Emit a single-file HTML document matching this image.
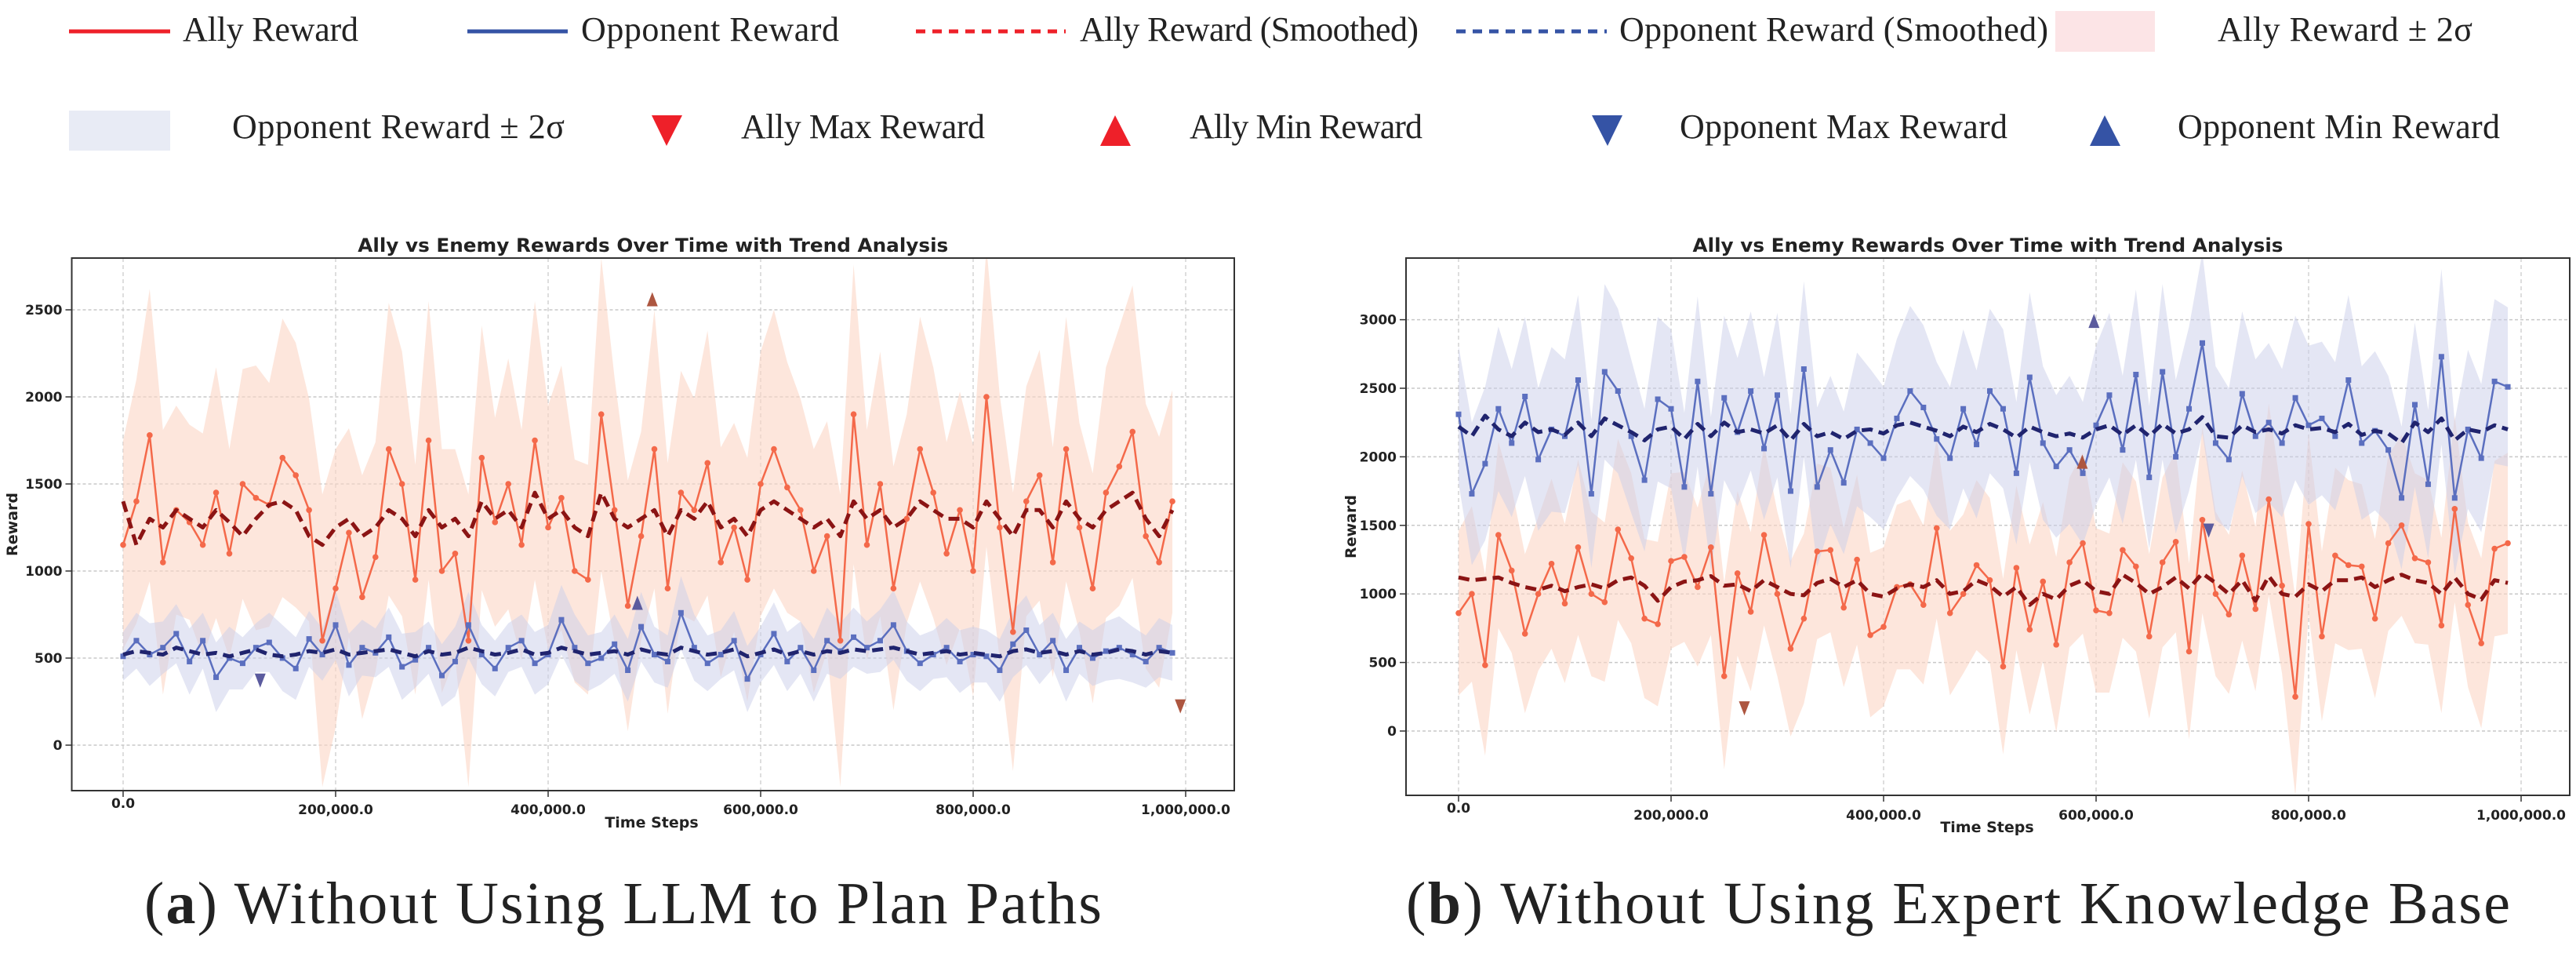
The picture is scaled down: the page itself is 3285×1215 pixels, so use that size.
<!DOCTYPE html>
<html><head><meta charset="utf-8"><style>
html,body{margin:0;padding:0;background:#fff;}
svg{display:block;}
</style></head><body>
<svg id="fig" width="3285" height="1215" viewBox="0 0 3285 1215" xmlns="http://www.w3.org/2000/svg">
<g id="legend" font-family="Liberation Serif, serif" font-size="44" fill="#222">
  <g><line x1="88" y1="40" x2="217" y2="40" stroke="#ee2029" stroke-width="5"/><text x="233" y="52" textLength="224">Ally Reward</text></g>
  <g><line x1="596" y1="40" x2="724" y2="40" stroke="#3553a5" stroke-width="5"/><text x="741" y="52" textLength="329">Opponent Reward</text></g>
  <g><line x1="1168" y1="40" x2="1359" y2="40" stroke="#ee2029" stroke-width="5" stroke-dasharray="12 9"/><text x="1377" y="52" textLength="432">Ally Reward (Smoothed)</text></g>
  <g><line x1="1857" y1="40" x2="2049" y2="40" stroke="#3553a5" stroke-width="5" stroke-dasharray="12 9"/><text x="2065" y="52" textLength="547">Opponent Reward (Smoothed)</text></g>
  <g><rect x="2621" y="14" width="127" height="52" fill="#fce4e6"/><text x="2828" y="52" textLength="325">Ally Reward ± 2σ</text></g>
  <g><rect x="88" y="141" width="129" height="51" fill="#e8ebf5"/><text x="296" y="176" textLength="424">Opponent Reward ± 2σ</text></g>
  <g><polygon points="831,147 870,147 850,186" fill="#ee2029"/><text x="945" y="176" textLength="311">Ally Max Reward</text></g>
  <g><polygon points="1403,186 1442,186 1422,147" fill="#ee2029"/><text x="1517" y="176" textLength="297">Ally Min Reward</text></g>
  <g><polygon points="2030,147 2069,147 2050,186" fill="#3553a5"/><text x="2142" y="176" textLength="418">Opponent Max Reward</text></g>
  <g><polygon points="2665,186 2704,186 2684,147" fill="#3553a5"/><text x="2777" y="176" textLength="411">Opponent Min Reward</text></g>
</g>
<g id="chartA"></g>
<g id="chartB"></g>
<text x="184" y="1177" font-family="Liberation Serif, serif" font-size="76" fill="#222" textLength="1221">(<tspan font-weight="bold">a</tspan>) Without Using LLM to Plan Paths</text>
<text x="1793" y="1177" font-family="Liberation Serif, serif" font-size="76" fill="#222" textLength="1408">(<tspan font-weight="bold">b</tspan>) Without Using Expert Knowledge Base</text>
</svg>
<script>
// ---------- data: chart A ----------
const stepSize = 12500;
const xTicksA = [0, 200000, 400000, 600000, 800000, 1000000];
const xTickLabels = ["0.0", "200,000.0", "400,000.0", "600,000.0", "800,000.0", "1,000,000.0"];
const yTicksA = [0, 500, 1000, 1500, 2000, 2500];
const allyA = [1150,1400,1780,1050,1350,1280,1150,1450,1100,1500,1420,1380,1650,1550,1350,600,900,1220,850,1080,1700,1500,950,1750,1000,1100,600,1650,1280,1500,1150,1750,1250,1420,1000,950,1900,1350,800,1200,1700,900,1450,1350,1620,1050,1250,950,1500,1700,1480,1350,1000,1200,600,1900,1150,1500,900,1300,1700,1450,1100,1350,1000,2000,1250,650,1400,1550,1050,1700,1250,900,1450,1600,1800,1200,1050,1400];
const allySmoothA = [1400,1150,1300,1250,1350,1300,1250,1350,1280,1200,1300,1380,1400,1350,1200,1150,1250,1300,1200,1250,1350,1300,1200,1350,1250,1300,1200,1400,1300,1350,1250,1450,1300,1350,1250,1200,1450,1300,1250,1300,1350,1200,1350,1300,1400,1250,1300,1200,1350,1400,1350,1300,1250,1300,1200,1400,1300,1350,1250,1300,1400,1350,1300,1300,1250,1400,1300,1200,1350,1350,1250,1400,1300,1250,1350,1400,1450,1300,1200,1350];
const allyStdA = [300,350,420,380,300,280,320,360,300,330,380,350,400,380,320,420,400,300,350,330,420,380,330,400,350,300,420,380,300,360,330,400,350,380,320,330,450,380,360,300,400,360,350,320,380,330,300,350,380,400,360,320,350,330,420,430,330,380,350,300,380,360,320,340,360,430,380,400,330,360,330,380,300,330,360,400,420,380,360,320];
const oppA = [510,600,520,560,640,480,600,390,500,470,560,590,500,440,610,520,690,460,560,530,620,450,490,560,400,480,690,520,440,560,600,470,520,720,560,470,500,580,430,680,520,480,760,560,470,520,600,380,520,640,480,560,430,600,540,620,560,600,690,540,470,520,560,480,520,510,430,580,660,520,600,430,560,500,540,560,520,480,560,530];
const oppSmoothA = [520,540,530,520,560,540,520,530,510,530,550,520,510,520,540,530,550,520,530,540,550,530,510,540,520,530,560,540,520,530,550,520,530,560,540,520,530,540,520,550,530,520,560,540,520,530,550,510,530,550,520,540,520,540,530,550,540,550,560,540,520,530,540,520,530,520,510,540,550,530,540,520,540,520,530,550,540,520,540,530];
const oppStdA = [70,80,90,75,85,95,80,100,90,75,70,85,95,90,80,75,100,90,80,70,85,95,80,75,90,100,95,85,80,70,75,90,85,100,95,80,75,85,90,100,80,75,105,95,80,70,85,95,80,90,85,75,90,95,80,85,75,90,100,85,80,70,85,90,80,75,90,95,100,85,80,90,75,80,85,90,80,75,85,80];
const markersA = {allyMin:[498000,2520], allyMax:[995000,182], oppMax:[129000,330], oppMin:[484000,777]};
// ---------- data: chart B ----------
const yTicksB = [0, 500, 1000, 1500, 2000, 2500, 3000];
const oppB = [2310,1730,1950,2350,2100,2440,1980,2200,2150,2560,1730,2620,2480,2150,1830,2420,2350,1780,2550,1730,2430,2180,2480,2060,2450,1750,2640,1780,2050,1810,2200,2100,1990,2280,2480,2360,2130,1990,2350,2090,2480,2350,1880,2580,2100,1930,2050,1880,2230,2450,2050,2600,1850,2620,2000,2350,2830,2100,1980,2460,2150,2250,2100,2430,2230,2280,2150,2560,2100,2190,2050,1700,2380,1800,2730,1700,2200,1990,2550,2510];
const oppSmoothB = [2220,2150,2300,2200,2150,2250,2180,2200,2160,2250,2150,2280,2230,2180,2120,2200,2220,2130,2240,2150,2250,2180,2200,2170,2230,2120,2240,2150,2180,2130,2190,2200,2170,2230,2250,2220,2190,2150,2220,2180,2240,2200,2140,2220,2180,2150,2170,2140,2200,2230,2160,2230,2150,2240,2170,2200,2290,2150,2140,2230,2180,2200,2170,2230,2200,2210,2180,2240,2160,2190,2170,2100,2250,2180,2280,2120,2200,2180,2230,2200];
const oppStdB = [250,260,280,300,270,290,260,300,280,310,270,320,300,280,260,300,290,270,310,280,300,270,290,260,300,280,320,290,270,260,280,270,260,290,310,300,280,260,290,270,300,290,260,310,280,260,270,260,290,300,270,310,260,320,280,300,330,280,260,300,280,290,270,300,290,280,270,310,280,290,270,260,300,270,320,280,290,270,300,290];
const allyB = [860,1000,480,1430,1170,710,1000,1220,930,1340,1000,940,1470,1260,820,780,1240,1270,1050,1340,400,1150,870,1430,1000,600,820,1310,1320,900,1250,700,760,1050,1070,920,1480,860,1000,1210,1100,470,1190,740,1090,630,1230,1370,880,860,1320,1200,690,1230,1380,580,1540,1000,850,1280,890,1690,1060,250,1510,690,1280,1210,1200,820,1370,1500,1260,1230,770,1620,920,640,1330,1370];
const allySmoothB = [1120,1100,1110,1120,1080,1050,1030,1060,1020,1050,1070,1040,1100,1120,1060,950,1050,1090,1100,1130,1060,1070,1020,1100,1050,1000,990,1080,1110,1050,1100,1000,980,1040,1070,1050,1100,1000,1020,1100,1060,980,1050,920,1000,960,1060,1100,1020,1000,1140,1080,1000,1050,1120,1040,1150,1080,1000,1100,950,1130,1000,980,1070,1020,1100,1100,1120,1050,1100,1140,1100,1080,1000,1120,1000,960,1100,1080];
const allyStdB = [300,320,330,340,300,290,280,310,290,320,300,290,330,310,290,300,320,310,290,320,340,300,290,330,300,320,310,320,300,290,310,300,290,300,310,290,330,300,290,310,300,320,300,310,290,320,310,330,300,290,320,310,300,310,330,320,340,300,290,310,300,350,320,360,330,310,320,310,300,290,320,330,310,300,320,340,300,310,320,330];
const markersB = {allyMin:[587000,1913], allyMax:[269000,114], oppMax:[706000,1410], oppMin:[598000,2940]};

const NS = "http://www.w3.org/2000/svg";
function mk(parent, tag, attrs) {
  const e = document.createElementNS(NS, tag);
  for (const k in attrs) e.setAttribute(k, attrs[k]);
  parent.appendChild(e);
  return e;
}
function drawChart(root, cfg) {
  const L = cfg.left, R = cfg.right, T = cfg.top, B = cfg.bottom;
  const sx = v => cfg.x0 + (v / 200000) * cfg.xUnit;
  const sy = v => cfg.y0 - (v / 500) * cfg.yUnit;
  const clip = mk(root, "clipPath", {id: cfg.id + "-clip"});
  mk(clip, "rect", {x: L, y: T, width: R - L, height: B - T});
  xTicksA.forEach((t, i) => {
    const g = mk(root, "line", {x1: sx(t), x2: sx(t), y1: T, y2: B, stroke: "#d4d4d4", "stroke-width": 1.5, "stroke-dasharray": "5 4"});
    
    
    const tk = mk(root, "line", {x1: sx(t), x2: sx(t), y1: B, y2: B + 8, stroke: "#333", "stroke-width": 1.5});
    
    
    const lb = mk(root, "text", {x: sx(t), y: i === 0 ? B + cfg.tickDy0 : B + cfg.tickDy, "text-anchor": "middle", "font-family": "DejaVu Sans, sans-serif", "font-weight": "bold", "font-size": 17, fill: "#222"});
    lb.textContent = xTickLabels[i];
    
    
  });
  cfg.yTicks.forEach(t => {
    const g = mk(root, "line", {x1: L, x2: R, y1: sy(t), y2: sy(t), stroke: "#c8c8c8", "stroke-width": 1.5, "stroke-dasharray": "4 3"});
    
    
    const tk = mk(root, "line", {x1: L - 8, x2: L, y1: sy(t), y2: sy(t), stroke: "#333", "stroke-width": 1.5});
    
    
    const lb = mk(root, "text", {x: L - 12, y: sy(t) + 6, "text-anchor": "end", "font-family": "DejaVu Sans, sans-serif", "font-weight": "bold", "font-size": 17, fill: "#222"});
    lb.textContent = String(t);
    
    
  });
  const plot = mk(root, "g", {"clip-path": "url(#" + cfg.id + "-clip)"});
  
  
  function band(vals, std, color, op, name) {
    const up = vals.map((v, i) => sx(i * stepSize) + "," + sy(v + 2 * std[i]));
    const dn = vals.map((v, i) => sx(i * stepSize) + "," + sy(v - 2 * std[i])).reverse();
    const p = mk(plot, "polygon", {points: up.concat(dn).join(" "), fill: color, "fill-opacity": op});
    
    
  }
  function line(vals, color, w, dash, name) {
    const pts = vals.map((v, i) => sx(i * stepSize) + "," + sy(v)).join(" ");
    const a = {points: pts, fill: "none", stroke: color, "stroke-width": w, "stroke-linejoin": "round"};
    if (dash) a["stroke-dasharray"] = dash;
    const p = mk(plot, "polyline", a);
    
    
  }
  function points(vals, color, shape, name) {
    vals.forEach((v, i) => {
      const x = sx(i * stepSize), y = sy(v);
      let m;
      if (shape === "sq") m = mk(plot, "rect", {x: x - 3.5, y: y - 3.5, width: 7, height: 7, fill: color});
      else m = mk(plot, "circle", {cx: x, cy: y, r: 3.8, fill: color});
      
      
    });
  }
  band(cfg.ally, cfg.allyStd, "#fbd5c5", 0.6, "ally-band");
  band(cfg.opp, cfg.oppStd, "#c9cde9", 0.5, "opponent-band");
  line(cfg.ally, "#f4694a", 2.5, null, "ally-reward-line");
  points(cfg.ally, "#f4694a", "c", "ally-reward-point");
  line(cfg.opp, "#5b6fbf", 2.5, null, "opponent-reward-line");
  points(cfg.opp, "#5b6fbf", "sq", "opponent-reward-point");
  line(cfg.allySmooth, "#8b1414", 5, "14 8", "ally-smoothed-line");
  line(cfg.oppSmooth, "#20246e", 5, "14 8", "opponent-smoothed-line");
  function tri(pt, down, color, name) {
    const x = sx(pt[0]), y = sy(pt[1]);
    const ps = down ? [x - 7, y - 18, x + 7, y - 18, x, y] : [x - 7, y, x + 7, y, x, y - 18];
    const p = mk(plot, "polygon", {points: ps.join(" "), fill: color});
    
    
  }
  tri(cfg.markers.allyMin, false, "#ad5640", "ally-min-marker");
  tri(cfg.markers.allyMax, true, "#ad5640", "ally-max-marker");
  tri(cfg.markers.oppMin, false, "#5b5b9e", "opponent-min-marker");
  tri(cfg.markers.oppMax, true, "#5b5b9e", "opponent-max-marker");
  const fr = mk(root, "rect", {x: L, y: T, width: R - L, height: B - T, fill: "none", stroke: "#333", "stroke-width": 2});
  
  
  const ti = mk(root, "text", {x: (L + R) / 2, y: T - 8, "text-anchor": "middle", "font-family": "DejaVu Sans, sans-serif", "font-weight": "bold", "font-size": 24, fill: "#222", textLength: 753, lengthAdjust: "spacingAndGlyphs"});
  ti.textContent = "Ally vs Enemy Rewards Over Time with Trend Analysis";
  
  
  const xl = mk(root, "text", {x: cfg.xLabelX, y: B + 47, "text-anchor": "middle", "font-family": "DejaVu Sans, sans-serif", "font-weight": "bold", "font-size": 19, fill: "#222"});
  xl.textContent = "Time Steps";
  
  
  const yl = mk(root, "text", {x: 0, y: 0, "text-anchor": "middle", "font-family": "DejaVu Sans, sans-serif", "font-weight": "bold", "font-size": 19, fill: "#222", transform: "translate(" + cfg.yLabelX + "," + ((T + B) / 2) + ") rotate(-90)"});
  yl.textContent = "Reward";
  
  
}
drawChart(document.getElementById("chartA"), {id: "a", left: 91.5, right: 1574, top: 329, bottom: 1008, x0: 157, xUnit: 271, y0: 950, yUnit: 111, yTicks: yTicksA, tickDy0: 22, tickDy: 30, xLabelX: 831, yLabelX: 22,
  ally: allyA, allySmooth: allySmoothA, allyStd: allyStdA, opp: oppA, oppSmooth: oppSmoothA, oppStd: oppStdA, markers: markersA});
drawChart(document.getElementById("chartB"), {id: "b", left: 1793, right: 3277, top: 329, bottom: 1014, x0: 1860, xUnit: 271, y0: 932, yUnit: 87.4, yTicks: yTicksB, tickDy0: 22, tickDy: 31, xLabelX: 2534, yLabelX: 1729,
  ally: allyB, allySmooth: allySmoothB, allyStd: allyStdB, opp: oppB, oppSmooth: oppSmoothB, oppStd: oppStdB, markers: markersB});
</script>
</body></html>
